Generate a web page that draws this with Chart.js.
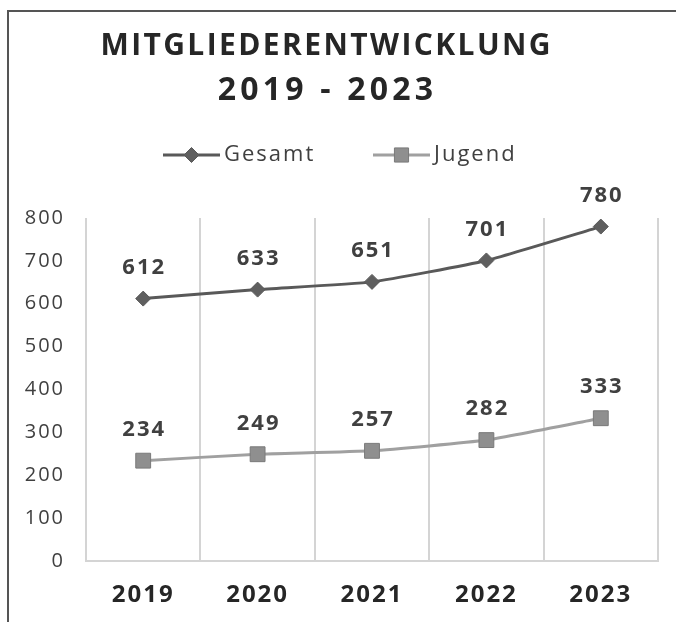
<!DOCTYPE html>
<html lang="de">
<head>
<meta charset="UTF-8" />
<title>Mitgliederentwicklung 2019 - 2023</title>
<script src="https://cdn.jsdelivr.net/npm/chart.js@4"></script>
<style>
    * { margin: 0; padding: 0; box-sizing: border-box; }
    body { width: 676px; height: 622px; background: #fff; position: relative; overflow: hidden; }
    .frame {
        position: absolute; left: 7px; top: 10px; right: 0; bottom: 0;
        border-top: 2px solid #555; border-left: 2px solid #555;
    }
    .chart-box { position: absolute; left: 0; top: 0; width: 676px; height: 622px; }
</style>
</head>
<body>
<div class="frame"></div>
<div class="chart-box"><canvas id="memberChart" width="676" height="622"></canvas></div>
<script>
    const years = ["2019", "2020", "2021", "2022", "2023"];
    const gesamt = [612, 633, 651, 701, 780];
    const jugend = [234, 249, 257, 282, 333];
    const yTicks = [0, 100, 200, 300, 400, 500, 600, 700, 800];
    const titleLines = ["MITGLIEDERENTWICKLUNG", "2019 - 2023"];
    const seriesNames = ["Gesamt", "Jugend"];

    const FONT = '"Open Sans", sans-serif';

    // draws text centred on cx with letter spacing, without the trailing gap
    function spacedText(ctx, text, cx, y, spacing) {
        ctx.letterSpacing = "0px";
        const w = ctx.measureText(text).width + spacing * (text.length - 1);
        ctx.letterSpacing = spacing + "px";
        ctx.textAlign = "left";
        ctx.fillText(text, cx - w / 2, y);
    }

    const textPlugin = {
        id: "textPlugin",
        beforeDraw(chart) {
            chart.ctx.letterSpacing = "2px";
        },
        afterDatasetsDraw(chart) {
            const ctx = chart.ctx;
            ctx.save();
            ctx.textBaseline = "middle";
            ctx.fillStyle = "#404040";
            ctx.font = "bold 22px " + FONT;
            chart.data.datasets.forEach((ds, i) => {
                chart.getDatasetMeta(i).data.forEach((pt, j) => {
                    spacedText(ctx, String(ds.data[j]), pt.x, pt.y - 31, 2);
                });
            });
            ctx.restore();
        },
        afterDraw(chart) {
            const ctx = chart.ctx;
            ctx.save();
            ctx.textBaseline = "middle";
            ctx.fillStyle = "#262626";
            ctx.font = "bold 30px " + FONT;
            spacedText(ctx, titleLines[0], 325.5, 46, 2.4);
            ctx.font = "bold 32px " + FONT;
            spacedText(ctx, titleLines[1], 325.5, 91, 4.2);

            // legend: line + marker, then name
            const ly = 155;
            const items = [
                { x0: 163, x1: 220, line: "#595959", fill: "#5f5f5f", stroke: "#595959", style: "rectRot", r: 7.5 },
                { x0: 373, x1: 430, line: "#a0a0a0", fill: "#8f8f8f", stroke: "#7a7a7a", style: "rect", r: 10 },
            ];
            items.forEach((it, i) => {
                ctx.strokeStyle = it.line;
                ctx.lineWidth = 3;
                ctx.beginPath();
                ctx.moveTo(it.x0, ly);
                ctx.lineTo(it.x1, ly);
                ctx.stroke();
                ctx.fillStyle = it.fill;
                ctx.strokeStyle = it.stroke;
                ctx.lineWidth = 1;
                Chart.helpers.drawPoint(ctx, { pointStyle: it.style, radius: it.r, borderWidth: 1 }, (it.x0 + it.x1) / 2, ly);
                ctx.fillStyle = "#404040";
                ctx.font = "22px " + FONT;
                ctx.letterSpacing = "2px";
                ctx.textAlign = "left";
                ctx.fillText(seriesNames[i], it.x1 + 4, ly);
            });
            ctx.restore();
        },
    };

    new Chart(document.getElementById("memberChart"), {
        type: "line",
        data: {
            labels: years,
            datasets: [
                {
                    label: seriesNames[0],
                    data: gesamt,
                    borderColor: "#595959",
                    borderWidth: 3,
                    backgroundColor: "#595959",
                    pointStyle: "rectRot",
                    pointRadius: 7.5,
                    pointBorderColor: "#595959",
                    pointBackgroundColor: "#5f5f5f",
                    pointBorderWidth: 1,
                    tension: 0.15,
                },
                {
                    label: seriesNames[1],
                    data: jugend,
                    borderColor: "#a0a0a0",
                    borderWidth: 3,
                    backgroundColor: "#8c8c8c",
                    pointStyle: "rect",
                    pointRadius: 10.5,
                    pointBorderColor: "#7a7a7a",
                    pointBackgroundColor: "#8f8f8f",
                    pointBorderWidth: 1,
                    tension: 0.15,
                },
            ],
        },
        options: {
            responsive: false,
            animation: false,
            layout: { padding: { top: 218, right: 18, bottom: 0, left: 0 } },
            plugins: {
                legend: { display: false },
                title: { display: false },
                tooltip: { enabled: false },
            },
            scales: {
                x: {
                    offset: true,
                    grid: { offset: true, color: "#d4d4d4", lineWidth: 2, drawTicks: false },
                    border: { color: "#d4d4d4", width: 2 },
                    ticks: {
                        color: "#262626",
                        font: { family: FONT, size: 24, weight: "bold" },
                        padding: 20,
                    },
                    afterFit(scale) {
                        scale.height = 61;
                    },
                },
                y: {
                    min: 0,
                    max: 800,
                    grid: { display: false },
                    border: { display: false },
                    afterBuildTicks(scale) {
                        scale.ticks = yTicks.map((v) => ({ value: v }));
                    },
                    ticks: {
                        color: "#404040",
                        font: { family: FONT, size: 20 },
                        padding: 13,
                    },
                    afterFit(scale) {
                        scale.width = 86;
                    },
                },
            },
        },
        plugins: [textPlugin],
    });
</script>
</body>
</html>
